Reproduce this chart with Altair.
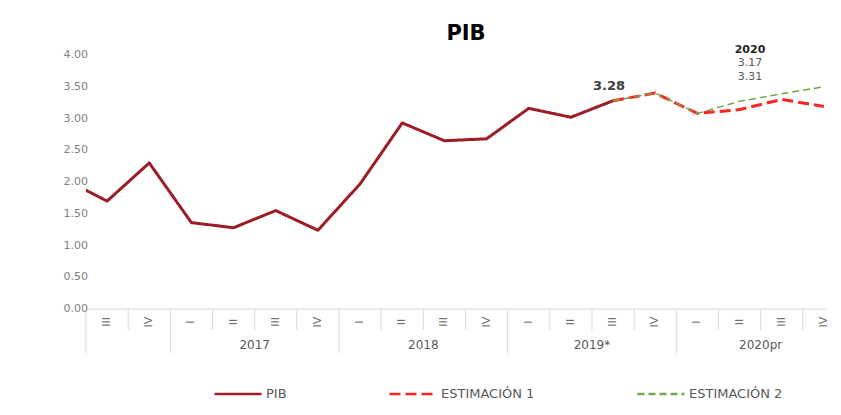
import altair as alt
import pandas as pd

# ---------------- data ----------------
quarters = ["III", "IV",
            "I", "II", "III", "IV",
            "I", "II", "III", "IV",
            "I", "II", "III", "IV",
            "I", "II", "III", "IV"]
year_labels = ["", "2017", "2018", "2019*", "2020pr"]
year_sizes = [2, 4, 4, 4, 4]

# PIB: index 0 is the (cropped) quarter before III-2016
pib_idx = list(range(0, 14))
pib_vals = [2.04, 1.70, 2.30, 1.36, 1.28, 1.55, 1.24, 1.97, 2.93, 2.65, 2.68, 3.16, 3.02, 3.28]

est_idx = [13, 14, 15, 16, 17, 18]
est1_vals = [3.28, 3.40, 3.08, 3.14, 3.30, 3.19]
est2_vals = [3.28, 3.40, 3.08, 3.27, 3.39, 3.50]

series_names = ["PIB", "ESTIMACIÓN 1", "ESTIMACIÓN 2"]
series_colors = ["#9C1C28", "#FF2424", "#6FA84C"]
series_dash = [[1, 0], [11, 5], [7, 4]]

y_ticks = [0, 0.5, 1.0, 1.5, 2.0, 2.5, 3.0, 3.5, 4.0]

ann_idx = [13]
ann_vals = [3.28]
box_title = "2020"
box_values = ["3.17", "3.31"]
chart_title = "PIB"

# ---------------- tables ----------------
rows = []
for i, v in zip(pib_idx, pib_vals):
    rows.append({"idx": i, "val": v, "serie": "PIB"})
for i, v in zip(est_idx, est1_vals):
    rows.append({"idx": i, "val": v, "serie": "ESTIMACIÓN 1"})
for i, v in zip(est_idx, est2_vals):
    rows.append({"idx": i, "val": v, "serie": "ESTIMACIÓN 2"})
df = pd.DataFrame(rows)

qdf = pd.DataFrame({"idx": list(range(1, len(quarters) + 1)), "q": quarters})

starts = []
s = 0.5
for n in year_sizes:
    starts.append(s)
    s += n
ydf = pd.DataFrame({"c": [st + n / 2 for st, n in zip(starts, year_sizes)], "yl": year_labels})
ydf = ydf[ydf["yl"] != ""].reset_index(drop=True)
long_df = pd.DataFrame({"b": starts})
short_df = pd.DataFrame({"b": [i + 0.5 for i in range(1, len(quarters)) if (i + 0.5) not in starts]})
adf = pd.DataFrame({"idx": ann_idx, "val": ann_vals})
tdf = pd.DataFrame({"v": y_ticks})

W, H = 740, 254
xscale = alt.Scale(domain=[0.5, 18.05], nice=False, zero=False)
yscale = alt.Scale(domain=[0, 4], nice=False)
FONT = "DejaVu Sans"
GRAY = "#595959"


def X(field):
    return alt.X(field, scale=xscale, axis=None)


def Y(field):
    return alt.Y(field, scale=yscale, axis=None)


color_enc = alt.Color("serie:N", scale=alt.Scale(domain=series_names, range=series_colors),
                      legend=alt.Legend(orient="none", legendX=127, legendY=314, direction="horizontal",
                                        title=None, symbolType="stroke", symbolSize=2209,
                                        symbolStrokeWidth=2.5,
                                        labelFont=FONT, labelFontSize=13, labelColor=GRAY,
                                        labelOffset=3, columnPadding=97))
dash_enc = alt.StrokeDash("serie:N", scale=alt.Scale(domain=series_names, range=series_dash))

thick = alt.Chart(df).transform_filter(alt.datum.serie != "ESTIMACIÓN 2").mark_line(
    clip=True, strokeWidth=3, strokeJoin="round").encode(
    x=X("idx:Q"), y=Y("val:Q"), color=color_enc, strokeDash=dash_enc)
thin = alt.Chart(df).transform_filter(alt.datum.serie == "ESTIMACIÓN 2").mark_line(
    clip=True, strokeWidth=1.5).encode(
    x=X("idx:Q"), y=Y("val:Q"), color=color_enc, strokeDash=dash_enc)

ytick_labels = alt.Chart(tdf).mark_text(font=FONT, fontSize=11, color="#7F7F7F",
                                        align="right", baseline="middle").encode(
    x=alt.value(2), y=Y("v:Q"), text=alt.Text("v:Q", format=".2f"))

baseline = alt.Chart(pd.DataFrame({"v": [0]})).mark_rule(color="#D9D9D9", strokeWidth=1).encode(
    y=Y("v:Q"), x=alt.value(0), x2=alt.value(W))

short_sep = alt.Chart(short_df).mark_rule(color="#D9D9D9", strokeWidth=1).encode(
    x=X("b:Q"), y=alt.value(H), y2=alt.value(H + 21))
long_sep = alt.Chart(long_df).mark_rule(color="#D9D9D9", strokeWidth=1).encode(
    x=X("b:Q"), y=alt.value(H), y2=alt.value(H + 44))

qlabels = alt.Chart(qdf).mark_text(angle=270, font=FONT, fontSize=11, color="#6E6E6E",
                                   align="center", baseline="middle").encode(
    x=X("idx:Q"), y=alt.value(H + 13), text="q:N")
ylabels = alt.Chart(ydf).mark_text(font=FONT, fontSize=12, color=GRAY,
                                   align="center", baseline="middle").encode(
    x=X("c:Q"), y=alt.value(H + 36), text="yl:N")

ann = alt.Chart(adf).mark_text(font=FONT, fontSize=13, fontWeight="bold", color="#404040",
                               align="center", baseline="middle", dy=-15, dx=-4).encode(
    x=X("idx:Q"), y=Y("val:Q"), text=alt.Text("val:Q", format=".2f"))

box_t = alt.Chart(pd.DataFrame({"t": [box_title]})).mark_text(
    font=FONT, fontSize=11, fontWeight="bold", color="#262626", align="center", baseline="middle").encode(
    x=alt.value(664), y=alt.value(-5), text="t:N")
box_v = alt.Chart(pd.DataFrame({"t": ["\n".join(box_values)]})).mark_text(
    font=FONT, fontSize=11, color=GRAY, align="center", baseline="top", lineBreak="\n", lineHeight=14).encode(
    x=alt.value(664), y=alt.value(2), text="t:N")

title = alt.Chart(pd.DataFrame({"t": [chart_title]})).mark_text(
    font=FONT, fontSize=21, fontWeight="bold", color="#000000", align="center", baseline="middle").encode(
    x=alt.value(380), y=alt.value(-21), text="t:N")

chart = alt.layer(baseline, short_sep, long_sep, qlabels, ylabels, ytick_labels,
                  thick, thin, ann, box_t, box_v, title).properties(
    width=W, height=H,
    autosize=alt.AutoSizeParams(type="none"),
    padding={"left": 78, "top": 47, "right": 6, "bottom": 97},
).configure_view(stroke=None)

chart.save("out.html", embed_options={"renderer": "svg", "actions": False})
